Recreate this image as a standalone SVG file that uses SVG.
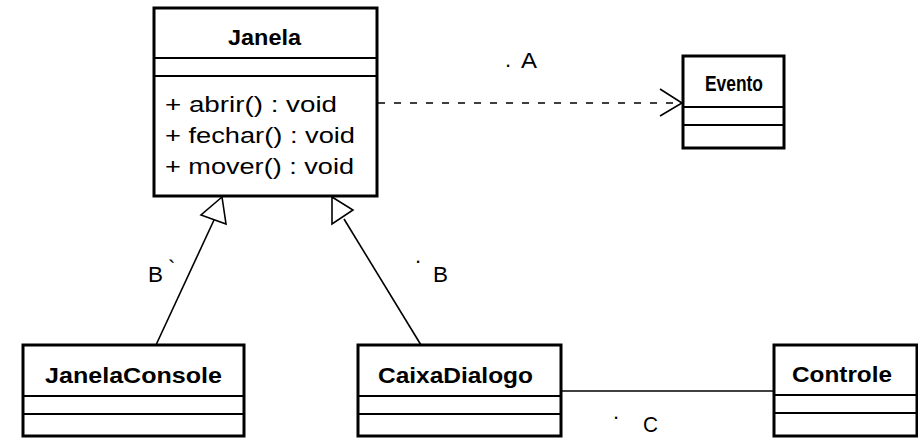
<svg xmlns="http://www.w3.org/2000/svg" width="918" height="438" viewBox="0 0 918 438">
<style>
.box{fill:#fff;stroke:#000;stroke-width:3}
.sep{stroke:#000;stroke-width:2}
.name{font-family:"Liberation Sans",Arial,sans-serif;font-weight:bold;font-size:22px;fill:#000}
.txt{font-family:"Liberation Sans",Arial,sans-serif;font-size:22px;fill:#000}
.con{stroke:#000;stroke-width:1.6;fill:none}
.tri{stroke:#000;stroke-width:1.6;fill:#fff}
</style>
<rect width="918" height="438" fill="#fff"/>
<g id="connectors">
  <line class="con" x1="378" y1="103" x2="681" y2="103" stroke-dasharray="7,9"/>
  <polyline class="con" points="660,89 682,103 660,116"/>
  <line class="con" x1="156" y1="345" x2="214" y2="220"/>
  <polygon class="tri" points="222,197 201,215 226,224"/>
  <line class="con" x1="421" y1="345" x2="344" y2="219"/>
  <polygon class="tri" points="332,197 332,224 353,210"/>
  <line class="con" x1="561" y1="391" x2="774" y2="391"/>
  <text class="txt" x="505" y="67">.</text>
  <text class="txt" x="521" y="68" textLength="16" lengthAdjust="spacingAndGlyphs">A</text>
  <text class="txt" x="148" y="282" textLength="15" lengthAdjust="spacingAndGlyphs">B</text>
  <text class="txt" x="168" y="276" font-size="12">`</text>
  <text class="txt" x="415" y="263" font-size="12">.</text>
  <text class="txt" x="433" y="282" textLength="15" lengthAdjust="spacingAndGlyphs">B</text>
  <text class="txt" x="613" y="419" font-size="12">.</text>
  <text class="txt" x="643" y="432" font-size="19" textLength="15" lengthAdjust="spacingAndGlyphs">C</text>
</g>
<g id="Janela">
  <rect class="box" x="154" y="8" width="223" height="188"/>
  <line class="sep" x1="154" y1="58" x2="377" y2="58"/>
  <line class="sep" x1="154" y1="76" x2="377" y2="76"/>
  <text class="name" x="228" y="45" textLength="73" lengthAdjust="spacingAndGlyphs">Janela</text>
  <text class="txt" x="165" y="112" textLength="172" lengthAdjust="spacingAndGlyphs">+ abrir() : void</text>
  <text class="txt" x="165" y="143" textLength="190" lengthAdjust="spacingAndGlyphs">+ fechar() : void</text>
  <text class="txt" x="165" y="174" textLength="189" lengthAdjust="spacingAndGlyphs">+ mover() : void</text>
</g>
<g id="Evento">
  <rect class="box" x="683" y="56" width="101" height="92"/>
  <line class="sep" x1="683" y1="107" x2="784" y2="107"/>
  <line class="sep" x1="683" y1="125" x2="784" y2="125"/>
  <text class="name" x="705" y="91" font-size="19" textLength="58" lengthAdjust="spacingAndGlyphs">Evento</text>
</g>
<g id="JanelaConsole">
  <rect class="box" x="23" y="345" width="221" height="91"/>
  <line class="sep" x1="23" y1="396" x2="244" y2="396"/>
  <line class="sep" x1="23" y1="414" x2="244" y2="414"/>
  <text class="name" x="45" y="383" textLength="177" lengthAdjust="spacingAndGlyphs">JanelaConsole</text>
</g>
<g id="CaixaDialogo">
  <rect class="box" x="358" y="345" width="203" height="91"/>
  <line class="sep" x1="358" y1="396" x2="561" y2="396"/>
  <line class="sep" x1="358" y1="414" x2="561" y2="414"/>
  <text class="name" x="378" y="383" textLength="155" lengthAdjust="spacingAndGlyphs">CaixaDialogo</text>
</g>
<g id="Controle">
  <rect class="box" x="774" y="345" width="143" height="91"/>
  <line class="sep" x1="774" y1="395" x2="917" y2="395"/>
  <line class="sep" x1="774" y1="413" x2="917" y2="413"/>
  <text class="name" x="792" y="382" textLength="100" lengthAdjust="spacingAndGlyphs">Controle</text>
</g>
</svg>
